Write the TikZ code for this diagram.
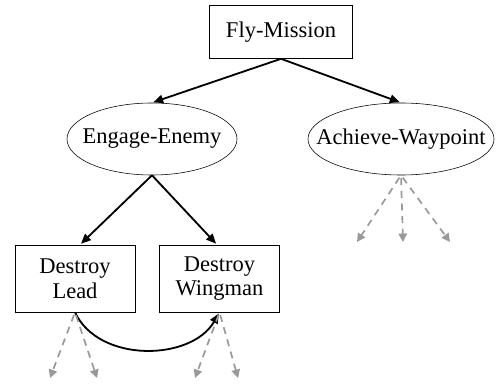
\documentclass[tikz,border=0pt]{standalone}
\usepackage{fontspec}
\setmainfont{Liberation Serif}
\usetikzlibrary{shapes.geometric,arrows.meta}

\tikzset{
  goalbox/.style={draw, rectangle, align=center, inner sep=2pt},
  goaloval/.style={draw, ellipse, inner xsep=-15pt, inner ysep=1pt},
  sublink/.style={-{Triangle[length=7pt,width=6pt]}, line width=1.3pt, shorten >=1pt},
  morelink/.style={-{Triangle[length=6pt,width=6pt]}, line width=1.2pt, gray!80,
    dash pattern=on 5pt off 4pt, shorten <=2pt}
}

\begin{document}
\begin{tikzpicture}[x=0.025cm, y=-0.025cm, font=\fontsize{16}{17.5}\selectfont]
  \useasboundingbox (0,0) rectangle (497,385);

  % goal hierarchy
  \node[goalbox, minimum width=3.575cm, minimum height=1.325cm] (fly) at (281,32) {Fly-Mission};
  \node[goaloval, minimum width=4.25cm, minimum height=1.8cm] (engage) at (152,139) {Engage-Enemy};
  \node[goaloval, minimum width=4.65cm, minimum height=1.8cm] (achieve) at (401,139) {Achieve-Waypoint};
  \node[goalbox, minimum width=3cm, minimum height=1.675cm] (lead) at (75,278.5) {Destroy\\Lead};
  \node[goalbox, minimum width=3cm, minimum height=1.675cm] (wing) at (219.5,278.5) {Destroy\\Wingman};

  \draw[sublink] (fly.south) -- (engage.north);
  \draw[sublink] (fly.south) -- (achieve.north);
  \draw[sublink] (engage.south) -- (lead.north -| 80,0);
  \draw[sublink] (engage.south) -- (wing.north -| 217,0);
  \draw[sublink] (lead.south) to[out=-65, in=-120] (wing.south);

  % unexpanded subgoals
  \coordinate (l1) at (50,378);
  \coordinate (l2) at (97,378);
  \coordinate (w1) at (195,378);
  \coordinate (w2) at (238,378);
  \coordinate (a1) at (357,242);
  \coordinate (a2) at (403,242);
  \coordinate (a3) at (450,242);
  \foreach \t in {l1,l2} \draw[morelink] (lead.south) -- (\t);
  \foreach \t in {w1,w2} \draw[morelink] (wing.south) -- (\t);
  \foreach \t in {a1,a2,a3} \draw[morelink] (achieve.south) -- (\t);
\end{tikzpicture}
\end{document}
